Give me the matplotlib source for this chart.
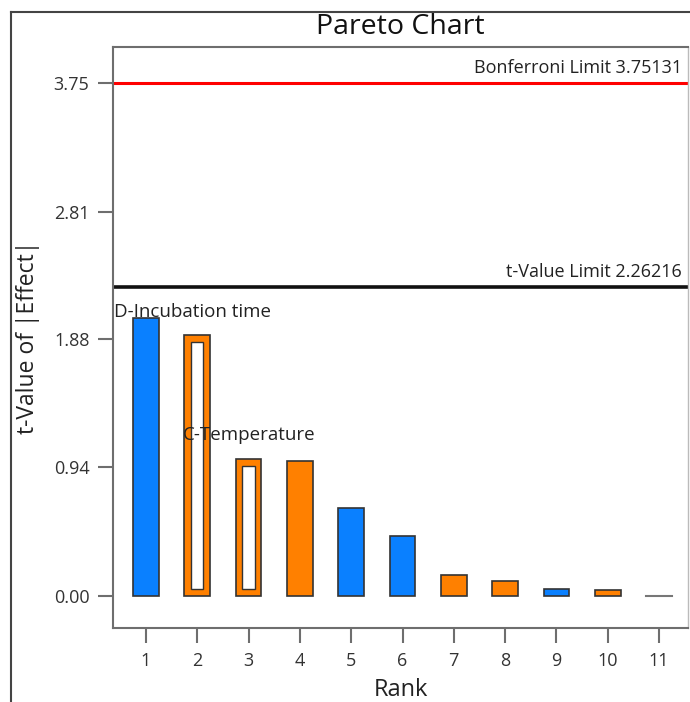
import matplotlib
matplotlib.use('Agg')
import matplotlib.pyplot as plt
from matplotlib.lines import Line2D

# data
ranks = [1, 2, 3, 4, 5, 6, 7, 8, 9, 10, 11]
t_values = [2.03, 1.91, 1.00, 0.99, 0.64, 0.44, 0.155, 0.11, 0.05, 0.045, 0.005]
hollow = [False, True, True, False, False, False, False, False, False, False, False]
positive = [True, False, False, False, True, True, False, False, True, False, True]
yticks = [0.00, 0.94, 1.88, 2.81, 3.75]
bonferroni = 3.75131
t_limit = 2.26216
labels = {1: "D-Incubation time", 2: "C-Temperature"}

C_BLUE = "#0A80FF"
C_ORANGE = "#FF8000"
C_EDGE = "#333333"
C_SPINE = "#6E6E6E"

plt.rcParams['font.family'] = ['Open Sans', 'DejaVu Sans']

fig = plt.figure(figsize=(6.9, 7.02), dpi=100)
ax = fig.add_axes([113/690, 1 - 628/702, (688 - 113)/690, (628 - 47)/702])

w = 0.5
for r, v, hol, pos in zip(ranks, t_values, hollow, positive):
    color = C_BLUE if pos else C_ORANGE
    if v < 0.01:
        ax.plot([r - w/2, r + w/2], [0, 0], color="#777777", lw=1.5)
        continue
    ax.bar(r, v, width=w, color=color, edgecolor=C_EDGE, linewidth=1.2, zorder=3)
    if hol:
        ax.bar(r, v - 0.1, bottom=0.05, width=0.24, color="white",
               edgecolor=C_EDGE, linewidth=1.0, zorder=4)

ax.axhline(bonferroni, color="#FF0000", lw=2.2, zorder=2)
ax.axhline(t_limit, color="#111111", lw=2.6, zorder=2)
ax.text(11.45, bonferroni + 0.04, f"Bonferroni Limit {bonferroni}", ha='right', va='bottom',
        fontsize=13, color="#222222")
ax.text(11.45, t_limit + 0.04, f"t-Value Limit {t_limit}", ha='right', va='bottom',
        fontsize=13, color="#222222")

ax.text(0.38, t_values[0] - 0.02, labels[1], ha='left', va='bottom', fontsize=13.5,
        color="#222222", zorder=5)
ax.text(1.72, 1.18, labels[2], ha='left', va='center', fontsize=13.5,
        color="#222222", zorder=5)

ax.set_xlim(0.357, 11.565)
ax.set_ylim(-0.234, 4.013)
ax.set_xticks(ranks)
ax.set_yticks(yticks)
ax.set_yticklabels([f"{t:.2f}" for t in yticks])
ax.tick_params(axis='both', length=11, width=1.5, color=C_SPINE, labelsize=13,
               labelcolor="#333333", pad=6)
for s in ax.spines.values():
    s.set_color(C_SPINE)
    s.set_linewidth(1.5)
ax.spines['right'].set_color("#BBBBBB")
ax.spines['right'].set_linewidth(1.0)

ax.set_title("Pareto Chart", fontsize=20.5, color="#111111", pad=9)
ax.set_xlabel("Rank", fontsize=17, color="#222222", labelpad=6)
ax.set_ylabel("t-Value of |Effect|", fontsize=16.5, color="#222222", labelpad=10)

# outer frame
fig.add_artist(Line2D([11/690, 11/690], [0, 1 - 12/702], color="#444444", lw=1.5,
                      transform=fig.transFigure))
fig.add_artist(Line2D([11/690, 1], [1 - 12/702, 1 - 12/702], color="#444444", lw=1.5,
                      transform=fig.transFigure))

fig.savefig("out.png", dpi=100)
